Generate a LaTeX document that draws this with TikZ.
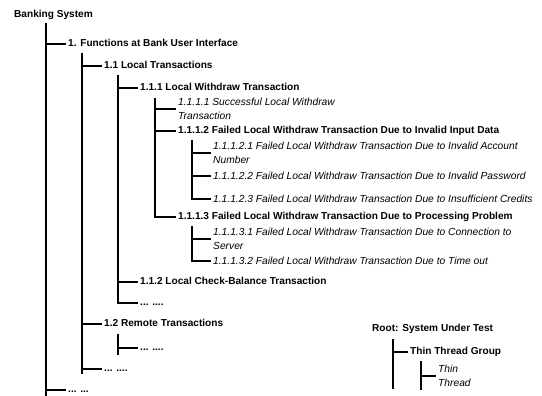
\documentclass[tikz,border=0pt]{standalone}
\usepackage{fontspec}
\setmainfont{Liberation Sans}
\usetikzlibrary{positioning}

\begin{document}
\begin{tikzpicture}[x=1pt, y=-1pt, branch/.style={draw=black, line width=1.7pt}]
    % Define styles for tree items and leaves
    \tikzstyle{item} = [anchor=west, inner sep=2pt, text height=7.3pt, text depth=2pt, font=\fontsize{10.1}{13.5}\selectfont\bfseries]
    \tikzstyle{leaf} = [anchor=west, inner sep=2pt, align=left, font=\fontsize{10.25}{13.8}\selectfont\itshape]
    \useasboundingbox (0,0) rectangle (542,396);

    % Nodes placement
    \node [item] (bank) at (12,15) {Banking System};
    \node [item] (func) at (66,44) {1. Functions at Bank User Interface};
    \node [item] (local) at (102,66) {1.1 Local Transactions};
    \node [item] (withdraw) at (138,88) {1.1.1 Local Withdraw Transaction};
    \node [leaf] (success) at (176,109) {1.1.1.1 Successful Local Withdraw\\Transaction};
    \node [item] (invalid) at (176,131) {1.1.1.2 Failed Local Withdraw Transaction Due to Invalid Input Data};
    \node [leaf] (account) at (211,153) {1.1.1.2.1 Failed Local Withdraw Transaction Due to Invalid Account\\Number};
    \node [leaf] (password) at (211,176) {1.1.1.2.2 Failed Local Withdraw Transaction Due to Invalid Password};
    \node [leaf] (credits) at (211,199) {1.1.1.2.3 Failed Local Withdraw Transaction Due to Insufficient Credits};
    \node [item] (process) at (176,217) {1.1.1.3 Failed Local Withdraw Transaction Due to Processing Problem};
    \node [leaf] (server) at (211,239) {1.1.1.3.1 Failed Local Withdraw Transaction Due to Connection to\\Server};
    \node [leaf] (timeout) at (211,261) {1.1.1.3.2 Failed Local Withdraw Transaction Due to Time out};
    \node [item] (balance) at (138,282) {1.1.2 Local Check-Balance Transaction};
    \node [item] (moreone) at (138,303) {... ....};
    \node [item] (remote) at (102,324) {1.2 Remote Transactions};
    \node [item] (moretwo) at (138,348) {... ....};
    \node [item] (morethree) at (102,369) {... ....};
    \node [item] (morefour) at (66,390) {... ...};

    % Legend nodes
    \node [item] (root) at (370,329) {Root: System Under Test};
    \node [item] (group) at (408,352) {Thin Thread Group};
    \node [leaf] (thread) at (436,376) {Thin\\Thread};

    % Stem tops and feet
    \coordinate (bankstem) at (46,23);
    \coordinate (bankfoot) at (46,396);
    \coordinate (funcstem) at (82,53);
    \coordinate (funcfoot) at (82,374);
    \coordinate (localstem) at (118,75);
    \coordinate (withdrawstem) at (155,98);
    \coordinate (invalidstem) at (192,140);
    \coordinate (processstem) at (192,226);
    \coordinate (remotestem) at (118,334);
    \coordinate (remotefoot) at (118,355);
    \coordinate (rootstem) at (393,339);
    \coordinate (rootfoot) at (393,389);
    \coordinate (groupstem) at (421,361);
    \coordinate (groupfoot) at (421,390);

    % Draw edges
    \draw[branch] (bankstem) -- (bankfoot);
    \foreach \child in {func,morefour} \draw[branch] (bankstem) |- (\child.west);
    \draw[branch] (funcstem) -- (funcfoot);
    \foreach \child in {local,remote,morethree} \draw[branch] (funcstem) |- (\child.west);
    \foreach \child in {withdraw,balance,moreone} \draw[branch] (localstem) |- (\child.west);
    \foreach \child in {success,invalid,process} \draw[branch] (withdrawstem) |- (\child.west);
    \foreach \child in {account,password,credits} \draw[branch] (invalidstem) |- (\child.west);
    \foreach \child in {server,timeout} \draw[branch] (processstem) |- (\child.west);
    \draw[branch] (remotestem) -- (remotefoot);
    \draw[branch] (remotestem) |- (moretwo.west);

    % Legend edges
    \draw[branch] (rootstem) -- (rootfoot);
    \draw[branch] (rootstem) |- (group.west);
    \draw[branch] (groupstem) -- (groupfoot);
    \draw[branch] (groupstem) |- (thread.west);
\end{tikzpicture}
\end{document}
